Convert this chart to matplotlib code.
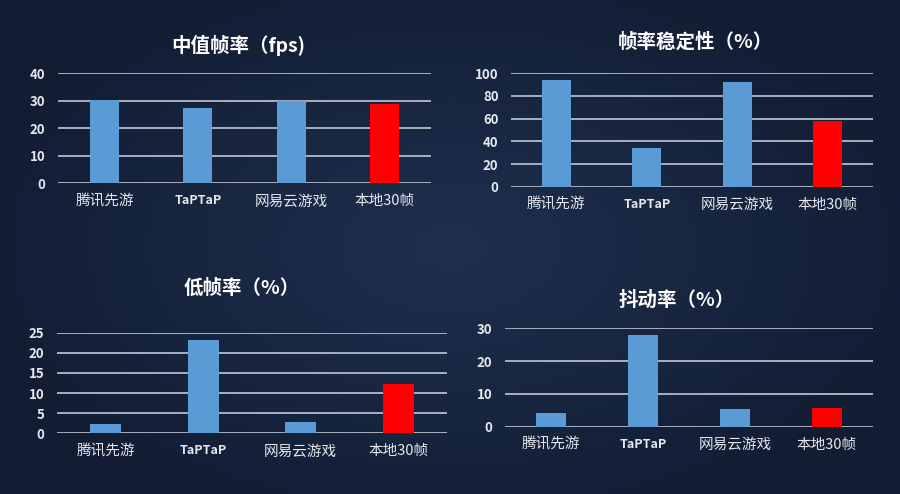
import numpy as np
import matplotlib
matplotlib.use("Agg")
import matplotlib.pyplot as plt

plt.rcParams['font.family'] = ['Noto Sans CJK SC', 'DejaVu Sans']

categories = ["腾讯先游", "TaPTaP", "网易云游戏", "本地30帧"]

median_fps = [30.2, 27.3, 30.1, 28.7]
stability = [93.8, 34.4, 92.3, 57.9]
low_fps_rate = [2.3, 23.1, 2.8, 12.3]
jitter_rate = [4.2, 28.0, 5.4, 5.8]

titles = ["中值帧率（fps)", "帧率稳定性（%）", "低帧率（%）", "抖动率（%）"]
ylims = [(0, 40), (0, 100), (0, 25), (0, 30)]
yticks = [[0, 10, 20, 30, 40], [0, 20, 40, 60, 80, 100],
          [0, 5, 10, 15, 20, 25], [0, 10, 20, 30]]

W, H = 900, 494
fig = plt.figure(figsize=(W / 100, H / 100), dpi=100)

# background radial gradient
bg = fig.add_axes([0, 0, 1, 1], zorder=-10)
yy, xx = np.mgrid[0:H, 0:W]
r = np.sqrt(((xx - W * 0.5) / (W * 0.55)) ** 2 + ((yy - H * 0.5) / (H * 0.6)) ** 2)
r = np.clip(r, 0, 1)
c_center = np.array([0x1e, 0x2f, 0x4e]) / 255
c_edge = np.array([0x12, 0x1d, 0x33]) / 255
img = c_center[None, None, :] * (1 - r[..., None]) + c_edge[None, None, :] * r[..., None]
bg.imshow(img, aspect='auto', extent=[0, 1, 0, 1])
bg.axis('off')

def px_rect(x0, x1, ytop, ybot):
    return [x0 / W, 1 - ybot / H, (x1 - x0) / W, (ybot - ytop) / H]

rects = [px_rect(58, 431, 73.3, 183.3),
         px_rect(511, 873, 73.3, 186.7),
         px_rect(57, 447, 332.7, 433.3),
         px_rect(505, 873, 328.3, 426.7)]
title_pos = [(238, 45), (695, 42), (242, 288), (677, 300)]
widths = [0.31, 0.32, 0.32, 0.32]
data = [median_fps, stability, low_fps_rate, jitter_rate]

bar_colors = ["#5b9bd5", "#5b9bd5", "#5b9bd5", "#ff0000"]
grid_color = "#a8b0bf"
text_color = "#e6e8ee"

for i in range(4):
    ax = fig.add_axes(rects[i])
    ax.set_facecolor('none')
    x = np.arange(len(categories))
    ax.bar(x, data[i], width=widths[i], color=bar_colors, zorder=3)
    ax.set_xlim(-0.5, len(categories) - 0.5)
    ax.set_ylim(*ylims[i])
    ax.set_yticks(yticks[i])
    ax.yaxis.grid(True, color=grid_color, linewidth=1.4, zorder=1)
    ax.set_axisbelow(True)
    for s in ax.spines.values():
        s.set_visible(False)
    ax.tick_params(axis='y', length=0, pad=9, labelsize=9.5, labelcolor=text_color)
    ax.tick_params(axis='x', length=0, pad=8, labelsize=10.5, labelcolor=text_color)
    ax.set_xticks(x)
    labels = ax.set_xticklabels(categories)
    for lab in labels:
        if lab.get_text() == "TaPTaP":
            lab.set_fontweight('bold')
            lab.set_fontsize(9)
    for lab in ax.get_yticklabels():
        lab.set_fontweight('bold')
    tx, ty = title_pos[i]
    fig.text(tx / W, 1 - ty / H, titles[i], ha='center', va='center',
             fontsize=14, fontweight='bold', color='white')

fig.savefig("out.png", dpi=100)
